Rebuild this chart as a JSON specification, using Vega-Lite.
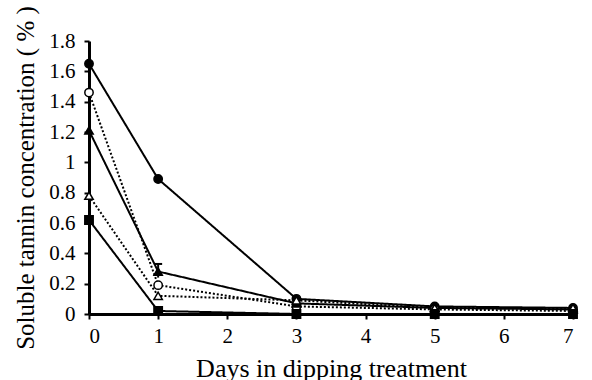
{
  "$schema": "https://vega.github.io/schema/vega-lite/v6.json",
  "width": 484,
  "height": 273,
  "autosize": {"type": "none"},
  "padding": {"left": 89, "top": 41, "right": 19, "bottom": 66},
  "background": "white",
  "config": {
    "view": {"stroke": null},
    "font": "Liberation Serif",
    "axis": {
      "labelFont": "Liberation Serif",
      "titleFont": "Liberation Serif",
      "labelColor": "black",
      "titleColor": "black",
      "domainColor": "black",
      "tickColor": "black",
      "domainWidth": 3,
      "tickWidth": 2,
      "tickSize": 5,
      "grid": false,
      "labelOverlap": false,
      "titleFontWeight": "normal"
    },
    "legend": {
      "labelFont": "Liberation Serif",
      "labelColor": "black"
    }
  },
  "data": {
    "values": [
      {"series": "0% coloring", "day": 0, "value": 1.65},
      {"series": "0% coloring", "day": 1, "value": 0.89},
      {"series": "0% coloring", "day": 3, "value": 0.10},
      {"series": "0% coloring", "day": 5, "value": 0.05},
      {"series": "0% coloring", "day": 7, "value": 0.04},
      {"series": "20% coloring", "day": 0, "value": 1.46},
      {"series": "20% coloring", "day": 1, "value": 0.19},
      {"series": "20% coloring", "day": 3, "value": 0.05},
      {"series": "20% coloring", "day": 5, "value": 0.03},
      {"series": "20% coloring", "day": 7, "value": 0.02},
      {"series": "50% coloring", "day": 0, "value": 1.21},
      {"series": "50% coloring", "day": 1, "value": 0.28, "lo": 0.24, "hi": 0.33},
      {"series": "50% coloring", "day": 3, "value": 0.07},
      {"series": "50% coloring", "day": 5, "value": 0.04},
      {"series": "50% coloring", "day": 7, "value": 0.03},
      {"series": "100% coloring", "day": 0, "value": 0.78},
      {"series": "100% coloring", "day": 1, "value": 0.12},
      {"series": "100% coloring", "day": 3, "value": 0.09},
      {"series": "100% coloring", "day": 5, "value": 0.04},
      {"series": "100% coloring", "day": 7, "value": 0.04},
      {"series": "Overripe", "day": 0, "value": 0.62},
      {"series": "Overripe", "day": 1, "value": 0.02},
      {"series": "Overripe", "day": 3, "value": 0.0},
      {"series": "Overripe", "day": 5, "value": 0.0},
      {"series": "Overripe", "day": 7, "value": 0.0}
    ]
  },
  "encoding": {
    "x": {
      "field": "day", "type": "quantitative",
      "scale": {"domain": [0, 7], "nice": false, "zero": false},
      "axis": {
        "values": [0, 1, 2, 3, 4, 5, 6, 7],
        "tickCount": 8,
        "format": "d",
        "title": "Days in dipping treatment",
        "labelFontSize": 21,
        "titleFontSize": 26,
        "labelPadding": 6,
        "titlePadding": 9
      }
    }
  },
  "layer": [
    {
      "mark": {"type": "line", "color": "black", "strokeWidth": 2},
      "encoding": {
        "y": {
          "field": "value", "type": "quantitative",
          "scale": {"domain": [0, 1.8], "nice": false},
          "axis": {
            "values": [0, 0.2, 0.4, 0.6, 0.8, 1, 1.2, 1.4, 1.6, 1.8],
            "tickCount": 10,
            "format": "~g",
            "title": "Soluble tannin concentration  ( % )",
            "labelFontSize": 21,
            "titleFontSize": 25,
            "labelPadding": 9,
            "titlePadding": 10,
            "labelOverlap": false
          }
        },
        "detail": {"field": "series"},
        "strokeDash": {
          "field": "series", "type": "nominal",
          "scale": {
            "domain": ["0% coloring", "20% coloring", "50% coloring", "100% coloring", "Overripe"],
            "range": [[1, 0], [2, 2], [1, 0], [2, 2], [1, 0]]
          },
          "legend": null
        }
      }
    },
    {
      "transform": [{"filter": "isValid(datum.hi)"}],
      "mark": {"type": "rule", "color": "black", "strokeWidth": 2},
      "encoding": {
        "y": {"field": "lo", "type": "quantitative"},
        "y2": {"field": "hi"}
      }
    },
    {
      "transform": [{"filter": "isValid(datum.hi)"}],
      "mark": {"type": "point", "shape": "M-1,0H1", "size": 64, "stroke": "black", "strokeWidth": 2, "opacity": 1},
      "encoding": {
        "y": {"field": "hi", "type": "quantitative"}
      }
    },
    {
      "mark": {"type": "point", "filled": true, "stroke": "black", "strokeWidth": 1.5, "size": 70, "opacity": 1},
      "encoding": {
        "y": {"field": "value", "type": "quantitative"},
        "shape": {
          "field": "series", "type": "nominal",
          "scale": {
            "domain": ["0% coloring", "20% coloring", "50% coloring", "100% coloring", "Overripe"],
            "range": ["circle", "circle", "triangle-up", "triangle-up", "square"]
          },
          "legend": {
            "title": null,
            "orient": "none",
            "legendX": 329.5,
            "legendY": 22,
            "padding": 0,
            "rowPadding": 0,
            "symbolSize": 729,
            "symbolStrokeWidth": 2,
            "symbolStrokeColor": "black",
            "symbolFillColor": "black",
            "labelFontSize": 21,
            "labelOffset": 12,
            "encode": {
              "symbols": {
                "shape": {"value": {"expr": "datum.value == '0% coloring' ? 'M-1.22,0H1.22M0.32,0A0.32,0.32 0 1 1 -0.32,0A0.32,0.32 0 1 1 0.32,0' : datum.value == '20% coloring' ? 'M-1.22,0H-1.1M-0.98,0H-0.86M-0.74,0H-0.62M-0.5,0H-0.38M0.38,0H0.5M0.62,0H0.74M0.86,0H0.98M1.1,0H1.22M0.3,0A0.3,0.3 0 1 1 -0.3,0A0.3,0.3 0 1 1 0.3,0' : datum.value == '50% coloring' ? 'M-1.22,0H1.22M0,-0.34L0.34,0.24L-0.34,0.24Z' : datum.value == '100% coloring' ? 'M-1.22,0H-1.1M-0.98,0H-0.86M-0.74,0H-0.62M-0.5,0H-0.4M0.4,0H0.5M0.62,0H0.74M0.86,0H0.98M1.1,0H1.22M0,-0.3L0.3,0.22L-0.3,0.22Z' : 'M-1.22,0H1.22M-0.3,-0.3H0.3V0.3H-0.3Z'"}},
                "fill": {"value": {"expr": "datum.value == '20% coloring' || datum.value == '100% coloring' ? 'white' : 'black'"}},
                "size": {"value": 729},
                "stroke": {"value": "black"},
                "strokeWidth": {"value": 2},
                "opacity": {"value": 1}
              }
            }
          }
        },
        "fill": {
          "field": "series", "type": "nominal",
          "scale": {
            "domain": ["0% coloring", "20% coloring", "50% coloring", "100% coloring", "Overripe"],
            "range": ["black", "white", "black", "white", "black"]
          },
          "legend": null
        }
      }
    }
  ]
}
